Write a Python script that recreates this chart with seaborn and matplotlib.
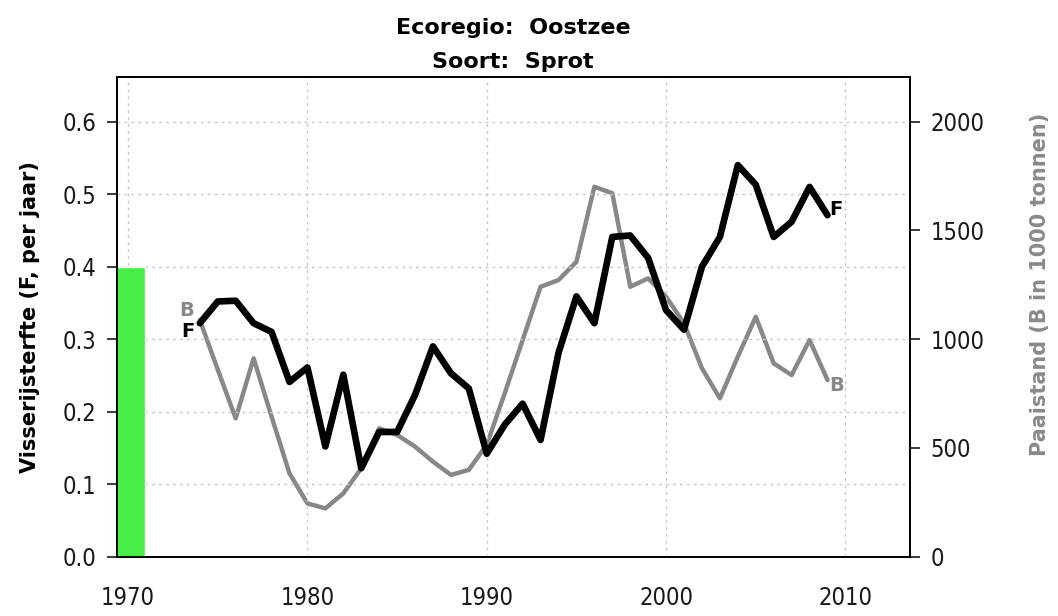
import numpy as np
import pandas as pd
import seaborn as sns
import matplotlib.pyplot as plt

# Sprot, Oostzee: fishing mortality (F) and spawning stock (B, 1000 t)
years = list(range(1974, 2010))
f_values = [0.322, 0.352, 0.353, 0.322, 0.310, 0.241, 0.261, 0.152, 0.251, 0.122,
            0.172, 0.172, 0.223, 0.290, 0.253, 0.232, 0.142, 0.182, 0.211, 0.161,
            0.281, 0.359, 0.322, 0.441, 0.443, 0.412, 0.340, 0.313, 0.400, 0.441,
            0.540, 0.513, 0.441, 0.462, 0.510, 0.471]
b_values = [1088, 860, 636, 912, 644, 383, 245, 222, 291, 406,
            590, 560, 506, 437, 376, 399, 515, 751, 996, 1241,
            1272, 1356, 1701, 1671, 1241, 1280, 1195, 1073, 866, 728,
            920, 1103, 889, 835, 996, 812]

# reference bar (green) on the F axis
ref_year = 1970
ref_value = 0.4

x_ticks = [1970, 1980, 1990, 2000, 2010]
f_ticks = [0.0, 0.1, 0.2, 0.3, 0.4, 0.5, 0.6]
b_ticks = [0, 500, 1000, 1500, 2000]

df = pd.DataFrame({"year": years, "F": f_values, "B": b_values})

sns.set_style("white")
plt.rcParams["font.family"] = ["DejaVu Sans"]
plt.rcParams["text.color"] = "black"

fig = plt.figure(figsize=(10.58, 6.16), dpi=100)
ax = fig.add_axes([0.1109, 0.0963, 0.7492, 0.7792])
ax2 = ax.twinx()

ax.bar(ref_year, ref_value, width=1.9, color="#46ee46", zorder=1)

sns.lineplot(data=df, x="year", y="B", ax=ax2, color="#888888", linewidth=3.2)
sns.lineplot(data=df, x="year", y="F", ax=ax, color="black", linewidth=4.8, zorder=5)

ax.set_zorder(ax2.get_zorder() + 1)
ax.patch.set_visible(False)

ax.set_xlim(1969.4, 2013.6)
ax.set_ylim(0, 0.662)
ax2.set_ylim(0, 2207)

ax.set_xticks(x_ticks)
ax.set_yticks(f_ticks)
ax.set_yticklabels([f"{v:.1f}" for v in f_ticks])
ax2.set_yticks(b_ticks)

ax.grid(True, linestyle=(0, (2, 3)), color="#c8c8c8", linewidth=1)

for a in (ax, ax2):
    a.tick_params(direction="out", length=7, width=1.2, colors="#1a1a1a",
                  labelsize=17, pad=8)
    for lab in a.get_xticklabels() + a.get_yticklabels():
        lab.set_fontstretch("condensed")
    for s in a.spines.values():
        s.set_color("black")
        s.set_linewidth(1.3)
ax.tick_params(axis="x", pad=14)

# end labels
ax.text(years[0] - 0.3, f_values[0] - 0.012, "F", ha="right", va="center",
        fontsize=14, fontweight="bold", color="black")
ax2.text(years[0] - 0.3, b_values[0] + 45, "B", ha="right", va="center",
         fontsize=14, fontweight="bold", color="#888888")
ax.text(years[-1] + 0.1, f_values[-1] + 0.008, "F", ha="left", va="center",
        fontsize=14, fontweight="bold", color="black")
ax2.text(years[-1] + 0.1, b_values[-1] - 25, "B", ha="left", va="center",
         fontsize=14, fontweight="bold", color="#888888")

ax.set_xlabel("")
ax.set_ylabel("Visserijsterfte (F, per jaar)", fontsize=15, fontweight="bold",
              color="black", labelpad=16)
ax2.set_ylabel("Paaistand (B in 1000 tonnen)", fontsize=15, fontweight="bold",
               color="#8a8a8a")
ax2.yaxis.set_label_coords(1.151, 0.568)

fig.text(0.485, 0.955, "Ecoregio:  Oostzee", ha="center", va="center",
         fontsize=16, fontweight="bold", color="black")
fig.text(0.485, 0.900, "Soort:  Sprot", ha="center", va="center",
         fontsize=16, fontweight="bold", color="black")

fig.savefig("out.png", dpi=100, facecolor="white")
